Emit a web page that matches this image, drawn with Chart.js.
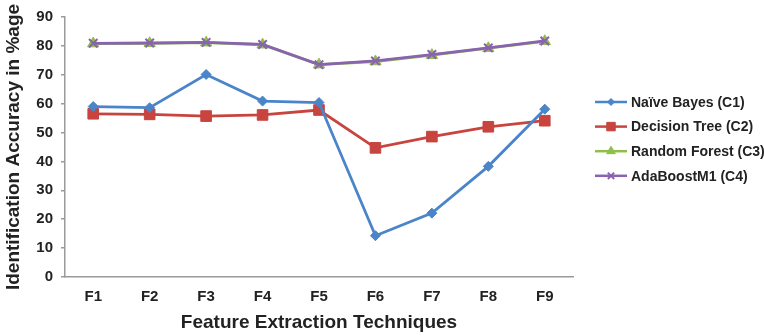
<!DOCTYPE html>
<html>
<head>
<meta charset="utf-8">
<script src="https://cdn.jsdelivr.net/npm/chart.js@4/dist/chart.umd.min.js"></script>
<style>
  html, body { margin: 0; padding: 0; background: #fff; }
  #wrap { width: 764px; height: 336px; }
</style>
</head>
<body>
<div id="wrap"><canvas id="accChart"></canvas></div>
<script>
// data
const techniques = ['F1', 'F2', 'F3', 'F4', 'F5', 'F6', 'F7', 'F8', 'F9'];
const naiveBayes = [59.0, 58.6, 70.1, 60.9, 60.4, 14.3, 22.1, 38.3, 58.1];
const decisionTree = [56.5, 56.3, 55.7, 56.1, 57.8, 44.7, 48.6, 52.0, 54.1];
const randomForest = [80.8, 80.9, 81.1, 80.4, 73.5, 74.6, 76.8, 79.2, 81.6];
const adaBoost = [80.9, 81.0, 81.2, 80.5, 73.5, 74.8, 77.0, 79.3, 81.7];
const yTicks = [0, 10, 20, 30, 40, 50, 60, 70, 80, 90];

const FONT = "'Liberation Sans', Arial, sans-serif";

// legend drawn as line + marker, like the original spreadsheet chart
const sideLegend = {
    id: 'sideLegend',
    afterDraw(chart) {
        const ctx = chart.ctx;
        const x0 = 595, y0 = 102, step = 24.6;
        ctx.save();
        chart.data.datasets.forEach((ds, i) => {
            const y = y0 + i * step;
            ctx.strokeStyle = ds.borderColor;
            ctx.fillStyle = ds.borderColor;
            ctx.lineWidth = 2.5;
            ctx.beginPath();
            ctx.moveTo(x0, y);
            ctx.lineTo(x0 + 32, y);
            ctx.stroke();
            ctx.lineWidth = ds.pointBorderWidth;
            Chart.helpers.drawPoint(ctx, {
                pointStyle: ds.pointStyle,
                radius: ds.legendRadius,
                rotation: 0,
                borderWidth: ds.pointBorderWidth
            }, x0 + 16, y);
            ctx.fillStyle = '#222';
            ctx.font = 'bold 14px ' + FONT;
            ctx.textBaseline = 'middle';
            ctx.fillText(ds.label, x0 + 36, y + 1);
        });
        ctx.restore();
    }
};

function series(label, data, color, style, radius, order) {
    return {
        label: label,
        data: data,
        borderColor: color,
        backgroundColor: color,
        pointBackgroundColor: color,
        pointBorderColor: color,
        pointStyle: style,
        pointRadius: radius,
        pointHoverRadius: radius,
        pointBorderWidth: style === 'crossRot' ? 2 : 1,
        legendRadius: radius - 1.5,
        borderWidth: 2.8,
        tension: 0,
        order: order
    };
}

document.addEventListener('DOMContentLoaded', function () {
    const ctx = document.getElementById('accChart').getContext('2d');
    new Chart(ctx, {
        type: 'line',
        data: {
            labels: techniques,
            datasets: [
                series('Naïve Bayes (C1)', naiveBayes, '#4a84c9', 'rectRot', 5, 0),
                series('Decision Tree (C2)', decisionTree, '#c8443f', 'rect', 7.5, 1),
                series('Random Forest (C3)', randomForest, '#8fbf4a', 'triangle', 6.5, 3),
                series('AdaBoostM1 (C4)', adaBoost, '#8a63b0', 'crossRot', 6, 2)
            ]
        },
        options: {
            responsive: true,
            maintainAspectRatio: false,
            animation: false,
            layout: { padding: { left: 0, right: 191, top: 17, bottom: 0 } },
            plugins: {
                legend: { display: false },
                tooltip: { enabled: false }
            },
            scales: {
                x: {
                    offset: true,
                    grid: { display: false, drawTicks: false },
                    border: { display: true, color: '#9a9a9a', width: 1.5 },
                    ticks: { color: '#222', padding: 11, font: { family: FONT, size: 15, weight: 'bold' } },
                    title: {
                        display: true,
                        text: 'Feature Extraction Techniques',
                        color: '#222',
                        padding: { top: 2, bottom: 2 },
                        font: { family: FONT, size: 19, weight: 'bold' }
                    },
                    afterFit(scale) { scale.height = 59; }
                },
                y: {
                    min: 0,
                    max: 90,
                    afterBuildTicks(scale) { scale.ticks = yTicks.map(v => ({ value: v })); },
                    grid: { drawOnChartArea: false, drawTicks: true, tickLength: 4, color: '#9a9a9a', lineWidth: 1.5 },
                    border: { display: true, color: '#9a9a9a', width: 1.5 },
                    ticks: { color: '#222', padding: 8, font: { family: FONT, size: 15, weight: 'bold' } },
                    title: {
                        display: true,
                        text: 'Identification Accuracy in %age',
                        color: '#222',
                        padding: { top: 2, bottom: 2 },
                        font: { family: FONT, size: 19, weight: 'bold' }
                    },
                    afterFit(scale) { scale.width = 65; }
                }
            }
        },
        plugins: [sideLegend]
    });
});
</script>
</body>
</html>
